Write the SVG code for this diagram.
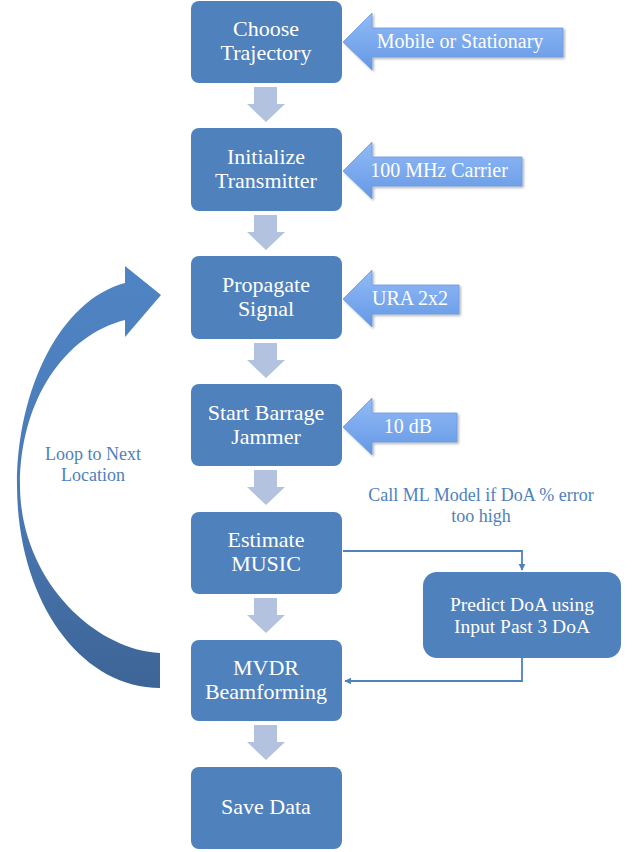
<svg xmlns="http://www.w3.org/2000/svg" width="633" height="852" viewBox="0 0 633 852">
<defs>
<linearGradient id="sideGrad" x1="0" y1="0" x2="0" y2="1">
<stop offset="0" stop-color="#92bbf7"/>
<stop offset="1" stop-color="#6498e4"/>
</linearGradient>
<linearGradient id="loopGrad" x1="0" y1="0" x2="0" y2="1">
<stop offset="0" stop-color="#4f84c4"/>
<stop offset="0.55" stop-color="#4a7ab5"/>
<stop offset="1" stop-color="#3d6496"/>
</linearGradient>
<filter id="shadow" x="-10%" y="-20%" width="130%" height="150%">
<feDropShadow dx="1.5" dy="1.5" stdDeviation="1.2" flood-color="#000" flood-opacity="0.3"/>
</filter>
<marker id="tip" viewBox="0 0 10 10" refX="9" refY="5" markerWidth="4" markerHeight="4" orient="auto">
<path d="M0,0 L10,5 L0,10 Z" fill="#4f81bd"/>
</marker>
</defs>
<style>
.box{fill:#4f81bd;}
.bt{font-family:"Liberation Serif","Times New Roman",serif;font-size:22px;fill:#ffffff;text-anchor:middle;}
.pt{font-family:"Liberation Serif","Times New Roman",serif;font-size:19.5px;fill:#ffffff;text-anchor:middle;}
.st{font-family:"Liberation Serif","Times New Roman",serif;font-size:20px;fill:#ffffff;text-anchor:middle;}
.lt{font-family:"Liberation Serif","Times New Roman",serif;font-size:18px;fill:#4f81bd;text-anchor:middle;}
.down{fill:#b3c3df;}
.side{fill:url(#sideGrad);stroke:#6b9be0;stroke-width:0.8;filter:url(#shadow);}
.conn{fill:none;stroke:#4f81bd;stroke-width:1.8;}
</style>

<g id="connectors">
<path class="down" d="M254,87 H277 V104 H285 L266,122 L247,104 H254 Z"/>
<path class="down" d="M254,215 H277 V232 H285 L266,250 L247,232 H254 Z"/>
<path class="down" d="M254,343 H277 V360 H285 L266,378 L247,360 H254 Z"/>
<path class="down" d="M254,470 H277 V487 H285 L266,505 L247,487 H254 Z"/>
<path class="down" d="M254,598 H277 V615 H285 L266,633 L247,615 H254 Z"/>
<path class="down" d="M254,725 H277 V742 H285 L266,760 L247,742 H254 Z"/>
<polyline class="conn" points="343,551 522,551 522,570" marker-end="url(#tip)"/>
<polyline class="conn" points="522,658 522,681 345,681" marker-end="url(#tip)"/>
<path id="loop" fill="url(#loopGrad)" d="M160,688 C80,688 17,600 17,485 C17,390 60,300 125,283 L125,266 L161,295 L125,337 L125,320 C65,335 20,400 20,485 C20,580 95,650 160,653 Z"/>
</g>

<g id="side1"><path class="side" d="M343,42 L372,13 V28 H563 V57 H372 V70 Z"/><text class="st" x="460" y="48">Mobile or Stationary</text></g>
<g id="side2"><path class="side" d="M343,171 L372,142 V157 H522 V186 H372 V199 Z"/><text class="st" x="439" y="177">100 MHz Carrier</text></g>
<g id="side3"><path class="side" d="M343,299 L372,270 V285 H459 V314 H372 V327 Z"/><text class="st" x="410" y="305">URA 2x2</text></g>
<g id="side4"><path class="side" d="M343,427 L372,398 V413 H457 V442 H372 V455 Z"/><text class="st" x="408" y="433">10 dB</text></g>

<g id="n1"><rect class="box" x="191" y="1" width="151" height="82" rx="8"/><text class="bt" x="266" y="36">Choose</text><text class="bt" x="266" y="60">Trajectory</text></g>
<g id="n2"><rect class="box" x="191" y="128" width="151" height="83" rx="8"/><text class="bt" x="266" y="164">Initialize</text><text class="bt" x="266" y="188">Transmitter</text></g>
<g id="n3"><rect class="box" x="191" y="256" width="151" height="83" rx="8"/><text class="bt" x="266" y="292">Propagate</text><text class="bt" x="266" y="316">Signal</text></g>
<g id="n4"><rect class="box" x="191" y="384" width="151" height="82" rx="8"/><text class="bt" x="266" y="420">Start Barrage</text><text class="bt" x="266" y="444">Jammer</text></g>
<g id="n5"><rect class="box" x="191" y="512" width="151" height="82" rx="8"/><text class="bt" x="266" y="547">Estimate</text><text class="bt" x="266" y="571">MUSIC</text></g>
<g id="n6"><rect class="box" x="191" y="640" width="151" height="81" rx="8"/><text class="bt" x="266" y="675">MVDR</text><text class="bt" x="266" y="699">Beamforming</text></g>
<g id="n7"><rect class="box" x="191" y="767" width="151" height="82" rx="8"/><text class="bt" x="266" y="814">Save Data</text></g>
<g id="n8"><rect class="box" x="423" y="572" width="198" height="86" rx="14"/><text class="pt" x="522" y="611">Predict DoA using</text><text class="pt" x="522" y="633">Input Past 3 DoA</text></g>

<g id="labels">
<text class="lt" x="93" y="460">Loop to Next</text>
<text class="lt" x="93" y="481">Location</text>
<text class="lt" x="481" y="501">Call ML Model if DoA % error</text>
<text class="lt" x="481" y="522">too high</text>
</g>
</svg>
